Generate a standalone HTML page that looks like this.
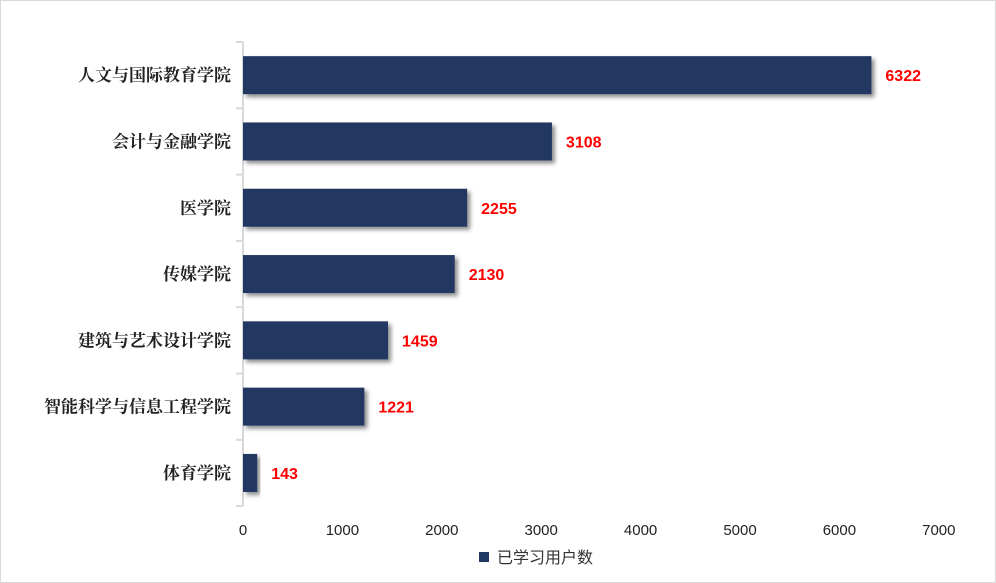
<!DOCTYPE html>
<html><head><meta charset="utf-8"><style>
body{margin:0;background:#fff}
#c{position:absolute;left:0;top:0;width:994px;height:581px;border:1px solid #d9d9d9;background:#fff}
</style></head><body>
<div id="c">
<svg id="s" width="996" height="583" xmlns="http://www.w3.org/2000/svg" style="position:absolute;left:-1px;top:-1px">
<defs><filter id="sh" x="-10%" y="-20%" width="130%" height="160%"><feDropShadow dx="3" dy="3" stdDeviation="2" flood-color="#000" flood-opacity="0.45"/></filter></defs>
</svg>
</div>
<script>
const categories=["人文与国际教育学院","会计与金融学院","医学院","传媒学院","建筑与艺术设计学院","智能科学与信息工程学院","体育学院"];
const values=[6322,3108,2255,2130,1459,1221,143];
const ticks=[0,1000,2000,3000,4000,5000,6000,7000];
const seriesName="已学习用户数";
const svg=document.getElementById('s');const NS="http://www.w3.org/2000/svg";
const x0=243,pxPer=99.4/1000,top0=42,bandH=66.3,barH=38;
const xs=v=>x0+v*pxPer;
function mk(t,a,p){const e=document.createElementNS(NS,t);for(const k in a)e.setAttribute(k,a[k]);(p||svg).appendChild(e);return e;}
const ax=mk('path',{d:`M${x0} ${top0}V${top0+bandH*7}`,stroke:'#d9d9d9','stroke-width':2,fill:'none'});


for(let i=0;i<=7;i++){const y=top0+bandH*i;const t=mk('line',{x1:x0-7,x2:x0,y1:y,y2:y,stroke:'#d9d9d9','stroke-width':2});

}
categories.forEach((c,i)=>{const cy=top0+bandH*(i+0.5);
const b=mk('rect',{x:x0,y:cy-barH/2,width:xs(values[i])-x0,height:barH,fill:'#203864',filter:'url(#sh)'});


const l=mk('text',{x:231,y:cy+6,'text-anchor':'end','font-family':'"Liberation Serif","Noto Serif CJK SC",serif','font-size':17,'font-weight':'bold',fill:'#222'});l.textContent=c;


const v=mk('text',{x:xs(values[i])+14,y:cy+6,'font-family':'"Liberation Sans",sans-serif','font-size':16,'font-weight':'bold',fill:'#ff0000'});v.textContent=values[i];

});
ticks.forEach(t=>{const e=mk('text',{x:xs(t),y:535,'text-anchor':'middle','font-family':'"Liberation Sans",sans-serif','font-size':15,fill:'#222'});e.textContent=t;

});
const g=mk('g',{});


mk('rect',{x:479,y:552,width:10,height:10,fill:'#203864'},g);
const lt=mk('text',{x:497,y:563,'font-family':'"Liberation Sans","Noto Sans CJK SC",sans-serif','font-size':16,fill:'#333'},g);lt.textContent=seriesName;
</script>
</body></html>
